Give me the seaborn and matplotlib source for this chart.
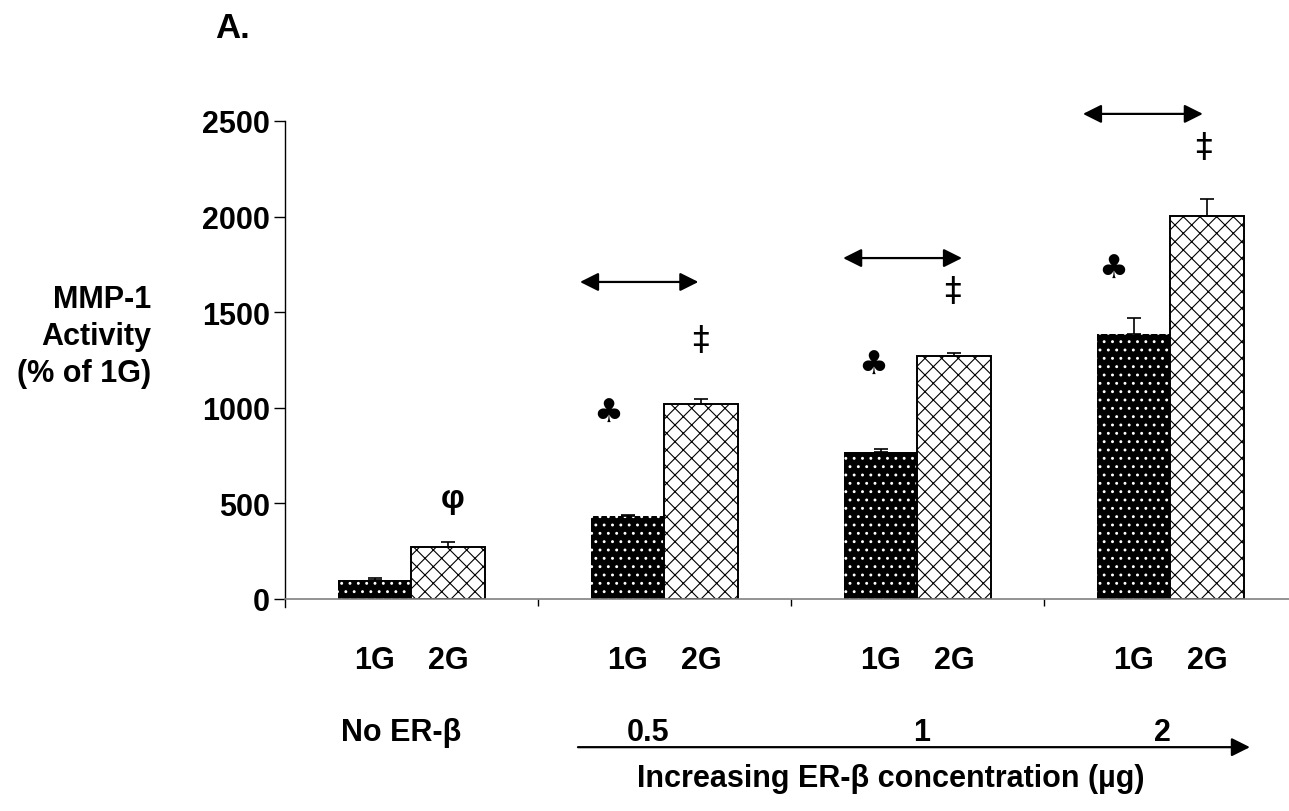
import numpy as np
import pandas as pd
import matplotlib
matplotlib.use("Agg")
import matplotlib.pyplot as plt
import seaborn as sns

# data
groups = ['No ER-β', '0.5', '1', '2']
conditions = ['1G', '2G']
mean_1g = [100, 435, 770, 1385]
mean_2g = [270, 1020, 1270, 2005]
err_1g = [8, 5, 15, 87]
err_2g = [28, 26, 16, 87]
y_ticks = [0, 500, 1000, 1500, 2000, 2500]

# significance marks per group (None = no mark)
club_marks = [None, '♣', '♣', '♣']
dagger_marks = [None, '‡', '‡', '‡']
phi_marks = ['φ', None, None, None]
bracket_groups = [1, 2, 3]

sns.set_style("white")
plt.rcParams['font.family'] = ['Liberation Sans', 'DejaVu Sans']
plt.rcParams['font.weight'] = 'bold'
plt.rcParams['text.color'] = 'black'
plt.rcParams['ytick.color'] = 'black'
plt.rcParams['xtick.color'] = 'black'
plt.rcParams['axes.labelcolor'] = 'black'

df = pd.DataFrame({
    'group': np.repeat(groups, 2),
    'condition': conditions * len(groups),
    'value': np.ravel(np.column_stack([mean_1g, mean_2g])),
})

fig = plt.figure(figsize=(12.89, 8.12), dpi=100)
ax = fig.add_axes([0.2211, 0.2611, 0.7851, 0.5887])

sns.barplot(data=df, x='group', y='value', hue='condition', order=groups,
            hue_order=conditions, palette=['black', 'white'], errorbar=None,
            width=0.58, legend=False, ax=ax)

# styling of the two bar sets
for p in ax.containers[0]:
    p.set_facecolor('black')
    p.set_edgecolor('white')
    p.set_linewidth(0)
    p.set_hatch('..')
    if hasattr(p, 'set_hatch_linewidth'):
        p.set_hatch_linewidth(0.9)
for p in ax.containers[1]:
    p.set_facecolor('white')
    p.set_edgecolor('black')
    p.set_linewidth(1.4)
    p.set_hatch('//\\\\')
    if hasattr(p, 'set_hatch_linewidth'):
        p.set_hatch_linewidth(0.8)

# one-sided error bars
for cont, err in zip(ax.containers, [err_1g, err_2g]):
    xs = [p.get_x() + p.get_width() / 2 for p in cont]
    hs = [p.get_height() for p in cont]
    ax.errorbar(xs, hs, yerr=[np.zeros(len(err)), err], fmt='none',
                ecolor='black', elinewidth=1.2, capsize=4.7, capthick=1.2,
                zorder=1)

ax.set_ylim(0, 2500)
ax.set_xlim(-0.5, 3.5)
ax.set_yticks(y_ticks)
ax.set_yticklabels([str(t) for t in y_ticks], fontsize=22, fontweight='bold')
ax.set_xticks([])
ax.set_xticks([0.5, 1.5, 2.5], minor=True)
ax.tick_params(axis='x', which='minor', direction='out', length=5,
               width=1, color='black', bottom=True)
ax.tick_params(axis='y', direction='out', length=8, width=1, pad=3, left=True,
               labelcolor='black')
ax.set_xlabel('')
ax.set_ylabel('')
for s in ['top', 'right']:
    ax.spines[s].set_visible(False)
ax.spines['left'].set_color('black')
ax.spines['left'].set_linewidth(1)
ax.spines['left'].set_bounds(-42, 2500)
ax.spines['bottom'].set_color('#808080')
ax.spines['bottom'].set_linewidth(1.2)

# 1G / 2G labels under each bar
trans = ax.get_xaxis_transform()
for cont, lab in zip(ax.containers, conditions):
    for p in cont:
        ax.text(p.get_x() + p.get_width() / 2, -0.1444, lab, transform=trans,
                ha='center', va='baseline', fontsize=22, fontweight='bold',
                clip_on=False)

# concentration labels and arrow
conc_x = [-0.04, 0.935, 2.018, 2.97]
for xv, lab in zip(conc_x, groups):
    ax.text(xv, -0.295, lab, transform=trans, ha='center', va='baseline',
            fontsize=22, fontweight='bold', clip_on=False)
ax.annotate('', xy=(3.314, -0.310), xytext=(0.658, -0.310),
            xycoords=trans, textcoords=trans, annotation_clip=False,
            arrowprops=dict(arrowstyle='-|>', color='black', lw=1.6,
                            mutation_scale=28, shrinkA=0, shrinkB=0))
ax.text(1.895, -0.391, 'Increasing ER-β concentration (µg)', transform=trans,
        ha='center', va='baseline', fontsize=22, fontweight='bold',
        clip_on=False)

# significance annotations
club_pos = {1: (-0.223, 978), 2: (-0.176, 1229), 3: (-0.227, 1731)}
dagger_pos = {1: (0.144, 1355), 2: (0.140, 1611), 3: (0.132, 2364)}
phi_pos = {0: (0.164, 523)}
bracket_pos = {1: (-0.334, 0.134, 1658), 2: (-0.294, 0.176, 1783),
               3: (-0.346, 0.128, 2537)}

for i, m in enumerate(club_marks):
    if m:
        dx, yv = club_pos[i]
        ax.text(i + dx, yv, m, ha='center', va='center', fontsize=24,
                family='DejaVu Sans', clip_on=False)
for i, m in enumerate(dagger_marks):
    if m:
        dx, yv = dagger_pos[i]
        ax.text(i + dx, yv, m, ha='center', va='center', fontsize=24,
                fontweight='normal', family='DejaVu Sans', clip_on=False)
for i, m in enumerate(phi_marks):
    if m:
        dx, yv = phi_pos[i]
        ax.text(i + dx, yv, m, ha='center', va='center', fontsize=24,
                fontweight='bold', clip_on=False)
for i in bracket_groups:
    x0, x1, yv = bracket_pos[i]
    ax.annotate('', xy=(i + x1, yv), xytext=(i + x0, yv),
                annotation_clip=False,
                arrowprops=dict(arrowstyle='<|-|>', color='black', lw=1.6,
                                mutation_scale=28, shrinkA=0, shrinkB=0))

# panel letter and y label
fig.text(0.1668, 0.953, 'A.', fontsize=25, fontweight='bold', ha='left',
         va='baseline')
fig.text(0.1171, 0.585, 'MMP-1\nActivity\n(% of 1G)', fontsize=22,
         fontweight='bold', ha='right', va='center', multialignment='right',
         linespacing=1.3)

fig.savefig('out.png', dpi=100)
